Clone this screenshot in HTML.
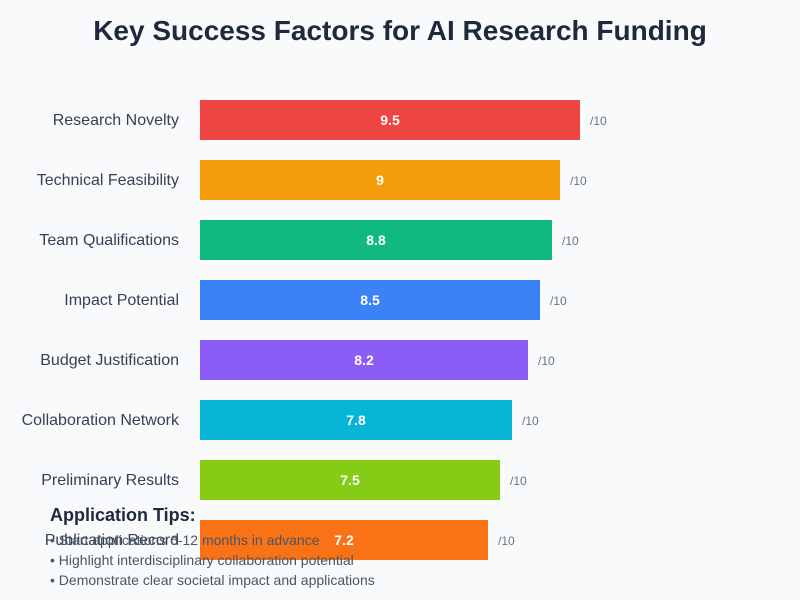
<!DOCTYPE html>
<html><head><meta charset="utf-8"><style>
html,body{margin:0;padding:0;background:#f8fafc;}
svg{display:block;font-family:"Liberation Sans",Arial,sans-serif;}
</style></head><body>
<svg width="800" height="600" xmlns="http://www.w3.org/2000/svg">
<rect width="800" height="600" fill="#f8fafc"/>
<text x="400" y="40" text-anchor="middle" font-size="28" font-weight="bold" fill="#1e293b">Key Success Factors for AI Research Funding</text>
<g font-size="16" fill="#374151" text-anchor="end">
<text x="179" y="125">Research Novelty</text>
<text x="179" y="185">Technical Feasibility</text>
<text x="179" y="245">Team Qualifications</text>
<text x="179" y="305">Impact Potential</text>
<text x="179" y="365">Budget Justification</text>
<text x="179" y="425">Collaboration Network</text>
<text x="179" y="485">Preliminary Results</text>
<text x="179" y="545">Publication Record</text>
</g>
<rect x="200" y="100" width="380" height="40" fill="#ef4444"/>
<rect x="200" y="160" width="360" height="40" fill="#f59e0b"/>
<rect x="200" y="220" width="352" height="40" fill="#10b981"/>
<rect x="200" y="280" width="340" height="40" fill="#3b82f6"/>
<rect x="200" y="340" width="328" height="40" fill="#8b5cf6"/>
<rect x="200" y="400" width="312" height="40" fill="#06b6d4"/>
<rect x="200" y="460" width="300" height="40" fill="#84cc16"/>
<rect x="200" y="520" width="288" height="40" fill="#f97316"/>
<g font-size="14" font-weight="bold" fill="#ffffff" text-anchor="middle">
<text x="390" y="125">9.5</text>
<text x="380" y="185">9</text>
<text x="376" y="245">8.8</text>
<text x="370" y="305">8.5</text>
<text x="364" y="365">8.2</text>
<text x="356" y="425">7.8</text>
<text x="350" y="485">7.5</text>
<text x="344" y="545">7.2</text>
</g>
<g font-size="12" fill="#6b7280">
<text x="590" y="125">/10</text>
<text x="570" y="185">/10</text>
<text x="562" y="245">/10</text>
<text x="550" y="305">/10</text>
<text x="538" y="365">/10</text>
<text x="522" y="425">/10</text>
<text x="510" y="485">/10</text>
<text x="498" y="545">/10</text>
</g>
<text x="50" y="521" font-size="18" font-weight="bold" fill="#1e293b">Application Tips:</text>
<g font-size="14" fill="#4b5563">
<text x="50" y="545">• Start applications 6-12 months in advance</text>
<text x="50" y="565">• Highlight interdisciplinary collaboration potential</text>
<text x="50" y="585">• Demonstrate clear societal impact and applications</text>
</g>
</svg>
</body></html>
